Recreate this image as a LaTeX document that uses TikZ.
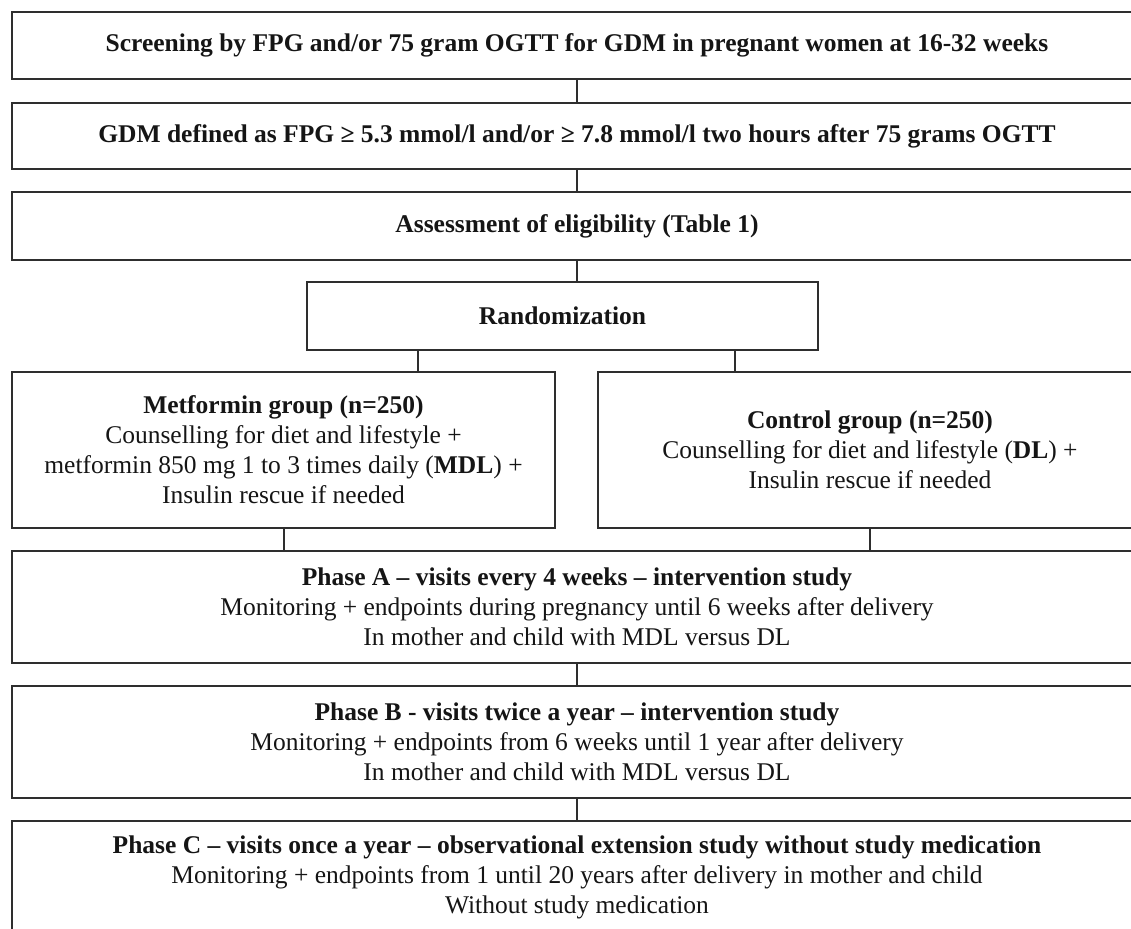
\documentclass[tikz,border=0pt]{standalone}
\usepackage{fontspec}
\setmainfont{Liberation Serif}
\definecolor{linec}{HTML}{2E2E2E}
\definecolor{txtc}{HTML}{151515}
\begin{document}
\begin{tikzpicture}[x=1pt,y=-1pt,
  box/.style={draw=linec, line width=2pt, fill=white, align=center, inner sep=0pt,
    text=txtc, font=\fontsize{25.5}{30}\selectfont},
  conn/.style={draw=linec, line width=2pt}]
\useasboundingbox (0,0) rectangle (1131,928);
\clip (0,0) rectangle (1131,928);
\fill[white] (0,0) rectangle (1131,928);
% boxes
\node[box, minimum width=1130, minimum height=67] (s1) at (577,45.5)
  {\textbf{Screening by FPG and/or 75 gram OGTT for GDM in pregnant women at 16-32 weeks}};
\node[box, minimum width=1130, minimum height=66] (s2) at (577,136)
  {\textbf{GDM defined as FPG ≥ 5.3 mmol/l and/or ≥ 7.8 mmol/l two hours after 75 grams OGTT}};
\node[box, minimum width=1130, minimum height=68] (s3) at (577,226)
  {\textbf{Assessment of eligibility (Table 1)}};
\node[box, minimum width=511, minimum height=68] (rand) at (562.5,316)
  {\textbf{Randomization}};
\node[box, minimum width=543, minimum height=156] (met) at (283.5,450)
  {\textbf{Metformin group (n=250)}\\Counselling for diet and lifestyle +\\metformin 850 mg 1 to 3 times daily (\textbf{MDL}) +\\Insulin rescue if needed};
\node[box, minimum width=544, minimum height=156] (ctrl) at (870,450)
  {\textbf{Control group (n=250)}\\Counselling for diet and lifestyle (\textbf{DL}) +\\Insulin rescue if needed};
\node[box, minimum width=1130, minimum height=112] (pa) at (577,607)
  {\textbf{Phase A – visits every 4 weeks – intervention study}\\Monitoring + endpoints during pregnancy until 6 weeks after delivery\\In mother and child with MDL versus DL};
\node[box, minimum width=1130, minimum height=112] (pb) at (577,742)
  {\textbf{Phase B - visits twice a year – intervention study}\\Monitoring + endpoints from 6 weeks until 1 year after delivery\\In mother and child with MDL versus DL};
\node[box, minimum width=1130, minimum height=112] (pc) at (577,877)
  {\textbf{Phase C – visits once a year – observational extension study without study medication}\\Monitoring + endpoints from 1 until 20 years after delivery in mother and child\\Without study medication};
% connectors
\draw[conn] (s1.south) -- (s2.north);
\draw[conn] (s2.south) -- (s3.north);
\draw[conn] (s3.south) -- (s3.south |- rand.north);
\draw[conn] (rand.south -| 418,0) -- (met.north -| 418,0);
\draw[conn] (rand.south -| 735,0) -- (ctrl.north -| 735,0);
\draw[conn] (met.south) -- (met.south |- pa.north);
\draw[conn] (ctrl.south) -- (ctrl.south |- pa.north);
\draw[conn] (pa.south) -- (pb.north);
\draw[conn] (pb.south) -- (pc.north);
\end{tikzpicture}
\end{document}
